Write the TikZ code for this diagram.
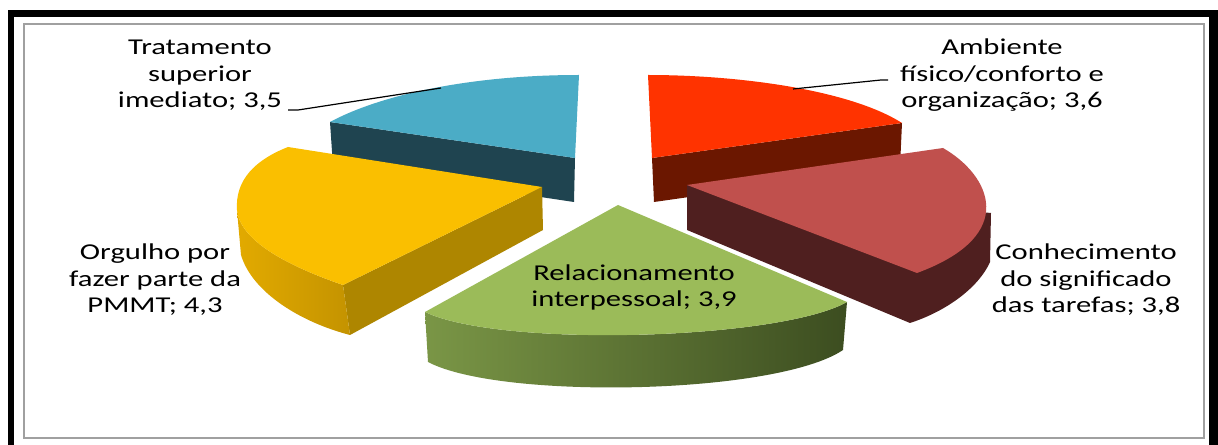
\documentclass[tikz,border=0pt]{standalone}
\usepackage{fontspec}
\setmainfont{Carlito}[FakeStretch=1.35]
\definecolor{tealtop}{HTML}{4BACC6}
\definecolor{tealside}{HTML}{1F4450}
\definecolor{redtop}{HTML}{FF3300}
\definecolor{redside}{HTML}{6B1700}
\definecolor{browntop}{HTML}{C0504D}
\definecolor{brownside}{HTML}{4F1F1F}
\definecolor{greentop}{HTML}{9BBB59}
\definecolor{greenL}{HTML}{7A9646}
\definecolor{greenR}{HTML}{3C4D20}
\definecolor{yellowtop}{HTML}{FABF00}
\definecolor{yellowrad}{HTML}{AE8600}
\definecolor{yellowL}{HTML}{E2AA00}
\definecolor{yellowR}{HTML}{C49300}
\definecolor{framegray}{HTML}{A0A0A0}
\begin{document}
\begin{tikzpicture}[x=0.75pt,y=-0.75pt,
  lbl/.style={font=\fontsize{17}{19.9}\selectfont, align=center, anchor=base, inner sep=0pt},
  leader/.style={draw=black, line width=0.9pt},
  innerframe/.style={draw=framegray, line width=1.5pt}]
\useasboundingbox (0,0) rectangle (1218,445);
\fill[white] (0,0) rectangle (1218,445);
\fill[black] (8,10) rectangle (1218,445);
\fill[white] (14,17) rectangle (1209,446);
\draw[innerframe] (24,24) rectangle (1204,438);

% teal slice (Tratamento)
\fill[tealside] (330,122) -- (575,158) -- (574,202) -- (333,166) -- cycle;
\fill[tealtop] (330,122) .. controls (380,95) and (470,75) .. (579,75) -- (575,158) -- cycle;

% red slice (Ambiente)
\fill[redside] (652,158) -- (902,123) -- (900,167) -- (654,202) -- cycle;
\fill[redtop] (648,75) .. controls (740,75) and (850,90) .. (902,123) -- (652,158) -- cycle;

% brown slice (Conhecimento)
\fill[brownside] (687,185) -- (991,213) -- (990,262) .. controls (980,285) and (950,310) .. (910,323) -- (687,230) -- cycle;
\fill[browntop] (687,185) -- (943,148) .. controls (990,175) and (1020,235) .. (917,273) -- cycle;

% yellow slice (Orgulho)
\fill[yellowrad] (343,285) -- (542,187) -- (543,230) -- (350,335) -- cycle;
\shade[left color=yellowL, right color=yellowR] (343,285) .. controls (285,265) and (240,240) .. (237,210) -- (241,255) .. controls (252,292) and (300,322) .. (350,335) -- cycle;
\fill[yellowtop] (288,147) -- (542,187) -- (343,285) .. controls (285,265) and (240,240) .. (237,210) .. controls (235,180) and (255,160) .. (288,147) -- cycle;

% green slice (Relacionamento)
\shade[left color=greenL, right color=greenR] (425,312) .. controls (500,348) and (780,340) .. (847,302) -- (843,350) .. controls (776,395) and (500,400) .. (428,362) -- cycle;
\fill[greentop] (618,205) -- (847,302) .. controls (780,340) and (500,348) .. (425,312) -- cycle;

% labels (anchor base = baseline of last line)
\node[lbl] (trat) at (200,108) {Tratamento\\superior\\imediato; 3,5};
\node[lbl] (amb) at (1002,108) {Ambiente\\físico/conforto e\\organização; 3,6};
\node[lbl] (con) at (1086,313) {Conhecimento\\do significado\\das tarefas; 3,8};
\node[lbl] (rel) at (634,307) {Relacionamento\\interpessoal; 3,9};
\node[lbl] (org) at (155,313) {Orgulho por\\fazer parte da\\PMMT; 4,3};

% leader lines
\coordinate (trA) at (288,110);
\coordinate (trB) at (298,110);
\coordinate (trC) at (441,88);
\draw[leader] (trA) -- (trB) -- (trC);
\coordinate (amA) at (888,80);
\coordinate (amB) at (881,80);
\coordinate (amC) at (793,89);
\draw[leader] (amA) -- (amB) -- (amC);
\end{tikzpicture}
\end{document}
